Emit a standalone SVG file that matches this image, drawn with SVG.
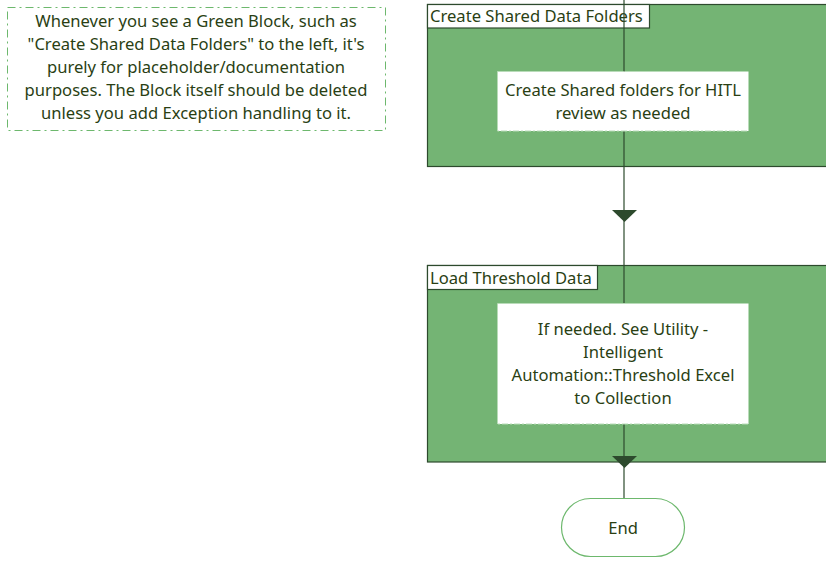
<svg xmlns="http://www.w3.org/2000/svg" width="826" height="564" viewBox="0 0 826 564">
<style>
text{font-family:"Noto Sans","Open Sans","DejaVu Sans",sans-serif;font-size:16.6px;fill:#2a3f14;text-anchor:middle}
.block{fill:#74b474;stroke:#2d4a2d;stroke-width:1.2}
.title{fill:#fff;stroke:#2d4a2d;stroke-width:1.2}
.title-t{text-anchor:start}
.inner{fill:#fff;stroke:#b8dcb8;stroke-width:1;stroke-dasharray:6 2 2 2}
.note{fill:#fff;stroke:#6db86d;stroke-width:1;stroke-dasharray:8 4 2 4}
.conn{stroke:#2d4a2d;stroke-width:1.2;fill:none}
.arrow{fill:#2d4a2d}
.term{fill:#fff;stroke:#6db86d;stroke-width:1.2}
</style>
<g id="note">
<rect class="note" x="7.5" y="7.5" width="378" height="123"/>
<text x="196" y="27">Whenever you see a Green Block, such as</text>
<text x="196" y="50">"Create Shared Data Folders" to the left, it's</text>
<text x="196" y="73">purely for placeholder/documentation</text>
<text x="196" y="96">purposes. The Block itself should be deleted</text>
<text x="196" y="119">unless you add Exception handling to it.</text>
</g>
<g id="block1">
<rect class="block" x="427.5" y="4.5" width="410" height="162"/>
<rect class="title" x="427.5" y="4.5" width="222" height="23.5"/>
<text class="title-t" x="430" y="22">Create Shared Data Folders</text>
</g>
<g id="block2">
<rect class="block" x="427.5" y="265.5" width="410" height="196.5"/>
<rect class="title" x="427.5" y="265.5" width="170" height="24"/>
<text class="title-t" x="430" y="284">Load Threshold Data</text>
</g>
<g id="connectors">
<line class="conn" x1="624" y1="0" x2="624" y2="303"/>
<polygon class="arrow" points="612,210 637,210 624.5,222"/>
<line class="conn" x1="624" y1="424" x2="624" y2="498"/>
<polygon class="arrow" points="612,456 637,456 624.5,468"/>
</g>
<g id="inner1">
<rect class="inner" x="497.5" y="71.5" width="251" height="59.5"/>
<text x="623" y="96">Create Shared folders for HITL</text>
<text x="623" y="119">review as needed</text>
</g>
<g id="inner2">
<rect class="inner" x="497.5" y="303.5" width="251" height="120.5"/>
<text x="623" y="335">If needed. See Utility -</text>
<text x="623" y="358">Intelligent</text>
<text x="623" y="381">Automation::Threshold Excel</text>
<text x="623" y="404">to Collection</text>
</g>
<g id="end">
<rect class="term" x="561.5" y="498.5" width="123" height="58" rx="29" ry="29"/>
<text x="623" y="534">End</text>
</g>
</svg>
